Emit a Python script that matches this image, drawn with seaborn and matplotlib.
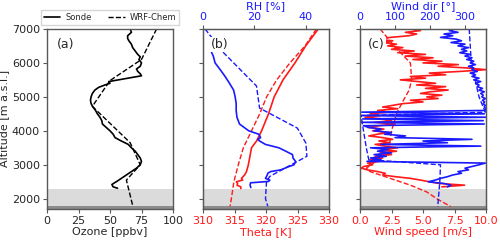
import numpy as np
import pandas as pd
import matplotlib
matplotlib.use("Agg")
import matplotlib.pyplot as plt
import seaborn as sns

# ---------------- data ----------------
# Panel (a) ozone
alt_o3s = [7000, 6900, 6800, 6720, 6650, 6550, 6450, 6350, 6250, 6180, 6100, 6000, 5900, 5820,
           5750, 5680, 5620, 5450, 5400, 5350, 5280, 5200, 5100, 5000, 4900, 4800, 4700, 4600,
           4500, 4400, 4300, 4200, 4100, 4000, 3900, 3800, 3700, 3600, 3500, 3400, 3300, 3200,
           3100, 3000, 2900, 2800, 2700, 2600, 2500, 2480, 2420, 2350, 2310]
o3s = [66, 67, 64, 64, 65, 67, 68, 70, 72, 74, 73, 75, 74, 71,
       72, 74, 75, 49, 50, 46, 41, 38, 36, 35, 34.5, 35, 36.5, 38.5,
       40, 42, 43.5, 44, 47, 50, 52.5, 54, 59, 64.5, 67, 70, 72, 74,
       75, 74, 71, 67, 63, 59, 55, 54, 51.5, 52.5, 56]
alt_o3w = [7000, 6100, 5480, 4720, 3650, 3000, 2550, 1800]
o3w = [87, 75, 50, 36, 66, 74, 63, 68]

# Panel (b) potential temperature and RH
alt_ths = [7000, 6500, 6000, 5500, 5000, 4500, 4000, 3700, 3500, 3000, 2800, 2700, 2600,
           2550, 2500, 2450, 2400, 2350, 2300]
ths = [328.3, 326.3, 324.6, 322.7, 321.3, 320.4, 319.3, 318.5, 317.7, 317.2, 316.9, 316.6, 316.1,
       316.3, 315.3, 315.5, 315.4, 316.0, 316.0]
alt_thw = [7000, 6500, 6000, 5500, 5000, 4500, 4000, 3500, 3000, 2500, 2000, 1780]
thw = [328.0, 326.2, 323.8, 321.7, 320.1, 319.0, 317.7, 316.4, 315.6, 314.9, 314.5, 314.3]
alt_rhs = [6450, 6300, 6200, 6000, 5800, 5600, 5400, 5200, 5000, 4800, 4600, 4400, 4200, 4000,
           3900, 3800, 3750, 3700, 3600, 3500, 3400, 3300, 3200, 3100, 3000, 2950, 2850, 2800,
           2750, 2700, 2600, 2550, 2510, 2470, 2400, 2330]
rhs = [3.0, 3.4, 4.0, 4.7, 6.7, 8.6, 10.3, 11.9, 12.5, 12.9, 12.9, 13.2, 14.2, 17.8,
       21.7, 22.4, 21.3, 22.0, 24.3, 29.5, 32.2, 34.8, 35.0, 36.0, 35.4, 33.5, 30.2, 26.3,
       25.2, 25.0, 24.3, 26.0, 25.5, 18.5, 18.3, 18.6]
alt_rhw = [7000, 6300, 5320, 4670, 4080, 3640, 3250, 2660, 2510, 2000, 1780]
rhw = [0.8, 8.0, 20.8, 22.0, 36.7, 40.0, 40.4, 26.0, 24.7, 24.3, 25.2]

# Panel (c) wind speed and direction
alt_ws = [7000, 6950, 6900, 6850, 6800, 6750, 6700, 6650, 6600, 6550, 6500, 6450, 6400, 6350,
          6300, 6250, 6200, 6150, 6100, 6050, 6000, 5950, 5900, 5850, 5800, 5750, 5700, 5650,
          5600, 5550, 5500, 5450, 5400, 5350, 5300, 5250, 5200, 5150, 5100, 5050, 5000, 4950,
          4900, 4850, 4800, 4750, 4700, 4650, 4600, 4550, 4500, 4450, 4400, 4350, 4300, 4250,
          4200, 4150, 4100, 4050, 4000, 3950, 3900, 3850, 3800, 3750, 3700, 3650, 3600, 3550,
          3500, 3450, 3400, 3350, 3300, 3250, 3200, 3150, 3100, 3050, 3000, 2950, 2900, 2850,
          2800, 2750, 2700, 2650, 2600, 2550, 2500, 2450, 2400, 2350]
wss = [4.0, 4.8, 3.6, 4.5, 3.9, 2.4, 1.3, 2.6, 1.8, 2.9, 2.2, 3.4, 2.5, 4.3,
       3.0, 5.2, 3.6, 5.8, 4.2, 6.5, 5.0, 7.8, 6.2, 8.5, 10.0, 8.0, 5.5, 6.8,
       4.0, 5.2, 3.2, 4.6, 6.0, 4.5, 6.8, 5.2, 7.0, 5.6, 4.8, 6.5, 5.3, 6.2,
       4.0, 5.0, 3.4, 2.6, 1.8, 3.0, 1.4, 2.2, 0.8, 1.6, 0.4, 1.8, 2.5, 1.2,
       2.8, 1.5, 0.6, 1.9, 1.0, 2.3, 1.4, 0.7, 1.8, 2.6, 1.5, 2.4, 1.2, 2.0,
       3.0, 1.8, 2.9, 1.6, 2.5, 1.2, 1.8, 0.8, 1.5, 0.6, 1.0, 0.3, 0.1, 0.6,
       1.4, 2.0, 1.8, 2.8, 4.0, 4.8, 5.5, 6.3, 8.3, 6.5]
wds = [270, 255, 280, 240, 265, 230, 275, 290, 260, 300, 280, 310, 290, 305,
       285, 315, 300, 320, 305, 325, 315, 330, 310, 325, 320, 335, 315, 330,
       320, 340, 325, 345, 330, 340, 335, 350, 340, 355, 345, 352, 348, 358,
       350, 356, 352, 358, 355, 360, 357, 5, 355, 3, 358, 8, 352, 2,
       355, 10, 25, 60, 40, 90, 70, 130, 100, 320, 180, 250, 60, 345,
       30, 80, 50, 90, 40, 75, 30, 60, 20, 358, 340, 320, 300, 310,
       280, 290, 265, 250, 230, 215, 195, 240, 260, 250]
alt_wsw = [7000, 6500, 6000, 5500, 5200, 4800, 4500, 4000, 3500, 3200, 3000, 2900, 2800, 2600,
           2400, 2200, 2000, 1770]
wsw = [1.6, 2.7, 4.0, 4.1, 3.9, 3.3, 2.9, 2.5, 2.3, 1.6, 0.9, 0.5, 0.8, 2.4,
       4.0, 5.3, 6.1, 7.2]
alt_wdw = [7000, 6000, 5000, 4550, 4450, 4000, 3500, 3150, 3000, 2500, 2000, 1770]
wdw = [312, 318, 340, 358, 3, 10, 18, 25, 230, 228, 224, 222]

# ---------------- style ----------------
sns.set_style("ticks")
plt.rcParams['font.family'] = ['DejaVu Sans']
FS = 8
plt.rcParams['font.size'] = FS
RED = '#ff1a1a'
BLUE = '#1a1aff'
SPC = '0.35'

fig = plt.figure(figsize=(5.0, 2.41), dpi=100)
bot, hgt, wid = 0.133, 0.747, 0.252
axa = fig.add_axes([0.094, bot, wid, hgt])
axb = fig.add_axes([0.406, bot, wid, hgt])
axc = fig.add_axes([0.720, bot, wid, hgt])


def base(ax):
    ax.set_ylim(1700, 7000)
    ax.axhspan(1700, 2290, color='0.86', zorder=0, lw=0)
    ax.axhspan(1700, 1775, color='0.55', zorder=0.5, lw=0)
    for s in ax.spines.values():
        s.set_color(SPC)
        s.set_linewidth(1.0)
    ax.tick_params(labelsize=FS, length=3, width=0.8, color=SPC, pad=2)
    ax.set_yticks([2000, 3000, 4000, 5000, 6000, 7000])


for ax in (axa, axb, axc):
    base(ax)

# ---- (a) ----
sns.lineplot(x=o3s, y=alt_o3s, sort=False, estimator=None, color='k', lw=1.2,
             ax=axa, label='Sonde')
sns.lineplot(x=o3w, y=alt_o3w, sort=False, estimator=None, color='k', lw=1.0,
             linestyle='--', ax=axa, label='WRF-Chem')
axa.set_xlim(0, 100)
axa.set_xticks([0, 25, 50, 75, 100])
axa.set_xlabel('Ozone [ppbv]', fontsize=FS, labelpad=1)
axa.set_ylabel('Altitude [m a.s.l.]', fontsize=FS, labelpad=2)
leg = axa.legend(loc='lower center', bbox_to_anchor=(0.5, 1.02), ncol=2, fontsize=6,
                 handlelength=2.0, columnspacing=2.0, borderaxespad=0, frameon=True,
                 fancybox=False, borderpad=0.35, handletextpad=0.6)
leg.get_frame().set_edgecolor('0.8')
axa.text(0.08, 0.95, '(a)', transform=axa.transAxes, fontsize=9, va='top', ha='left',
         zorder=10)

# ---- (b) ----
sns.lineplot(x=ths, y=alt_ths, sort=False, estimator=None, color=RED, lw=1.2, ax=axb,
             legend=False)
sns.lineplot(x=thw, y=alt_thw, sort=False, estimator=None, color=RED, lw=1.0,
             linestyle='--', ax=axb, legend=False)
axb.set_xlim(310, 330)
axb.set_xticks([310, 315, 320, 325, 330])
axb.tick_params(axis='x', labelcolor=RED)
axb.tick_params(labelleft=False)
axb.set_xlabel('Theta [K]', color=RED, fontsize=FS, labelpad=1)
axb.set_ylabel('')
axb2 = axb.twiny()
sns.lineplot(x=rhs, y=alt_rhs, sort=False, estimator=None, color=BLUE, lw=1.2, ax=axb2,
             legend=False)
sns.lineplot(x=rhw, y=alt_rhw, sort=False, estimator=None, color=BLUE, lw=1.0,
             linestyle='--', ax=axb2, legend=False)
axb2.set_xlim(0, 49)
axb2.set_xticks([0, 20, 40])
axb2.tick_params(axis='x', labelcolor=BLUE, labelsize=FS, length=3, width=0.8, color=SPC, pad=2)
axb2.set_xlabel('RH [%]', color=BLUE, fontsize=FS, labelpad=2)
axb2.set_ylim(1700, 7000)
for s in axb2.spines.values():
    s.set_color(SPC)
axb2.text(0.06, 0.95, '(b)', transform=axb2.transAxes, fontsize=9, va='top', ha='left',
          zorder=10, bbox=dict(facecolor='white', edgecolor='none', pad=1.0))

# ---- (c) ----
sns.lineplot(x=wss, y=alt_ws, sort=False, estimator=None, color=RED, lw=1.2, ax=axc,
             legend=False)
sns.lineplot(x=wsw, y=alt_wsw, sort=False, estimator=None, color=RED, lw=1.0,
             linestyle='--', ax=axc, legend=False)
axc.set_xlim(0, 10)
axc.set_xticks([0, 2.5, 5, 7.5, 10])
axc.set_xticklabels(['0.0', '2.5', '5.0', '7.5', '10.0'])
axc.tick_params(axis='x', labelcolor=RED)
axc.tick_params(labelleft=False)
axc.set_xlabel('Wind speed [m/s]', color=RED, fontsize=FS, labelpad=1)
axc.set_ylabel('')
axc2 = axc.twiny()
sns.lineplot(x=wds, y=alt_ws, sort=False, estimator=None, color=BLUE, lw=1.2, ax=axc2,
             legend=False)
sns.lineplot(x=wdw, y=alt_wdw, sort=False, estimator=None, color=BLUE, lw=1.0,
             linestyle='--', ax=axc2, legend=False)
axc2.set_xlim(0, 360)
axc2.set_xticks([0, 100, 200, 300])
axc2.tick_params(axis='x', labelcolor=BLUE, labelsize=FS, length=3, width=0.8, color=SPC, pad=2)
axc2.set_xlabel('Wind dir [°]', color=BLUE, fontsize=FS, labelpad=2)
axc2.set_ylim(1700, 7000)
for s in axc2.spines.values():
    s.set_color(SPC)
axc2.text(0.06, 0.95, '(c)', transform=axc2.transAxes, fontsize=9, va='top', ha='left',
          zorder=10, bbox=dict(facecolor='white', edgecolor='none', pad=1.0))

fig.savefig('out.png', dpi=100)
